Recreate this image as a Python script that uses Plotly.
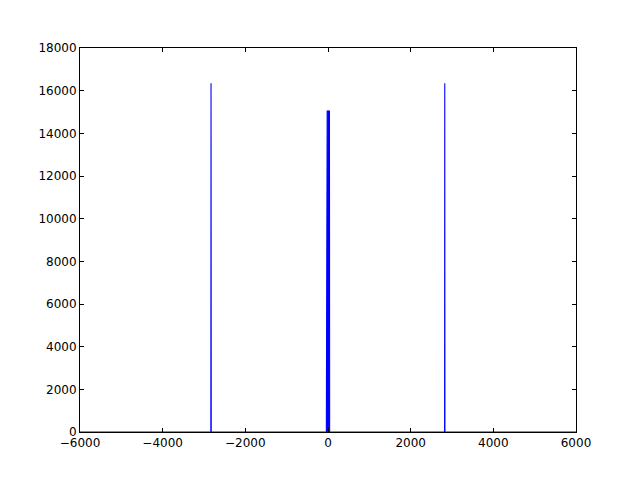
import plotly.graph_objects as go

# Spectrum data (frequency vs magnitude)
freq = [-6000, -2834, -2830, -2826, -40, -35, -30, -20, -10, 0, 10, 20, 30, 35, 40, 2821, 2825, 2829, 6000]
mag = [0, 0, 16350, 0, 0, 15050, 15050, 15050, 15050, 15050, 15050, 15050, 15050, 15050, 0, 0, 16350, 0, 0]

x_ticks = [-6000, -4000, -2000, 0, 2000, 4000, 6000]
x_labels = ["\u22126000", "\u22124000", "\u22122000", "0", "2000", "4000", "6000"]
y_ticks = [0, 2000, 4000, 6000, 8000, 10000, 12000, 14000, 16000, 18000]

fig = go.Figure()
fig.add_trace(go.Scatter(x=freq, y=mag, mode="lines",
                         line=dict(color="#0000ff", width=1.1),
                         fill="tozeroy", fillcolor="#0000ff",
                         showlegend=False, hoverinfo="skip"))

axis_common = dict(showline=True, linecolor="black", linewidth=1, mirror="allticks",
                   ticks="inside", ticklen=4, tickcolor="black", showgrid=False,
                   zeroline=False, tickfont=dict(family="DejaVu Sans", size=12, color="black"))

# page body has an 8px default margin, so the figure is sized to fit the 640x480 window
fig.update_layout(
    width=624, height=464,
    margin=dict(l=72, r=56, t=40, b=40),
    paper_bgcolor="white", plot_bgcolor="white",
    xaxis=dict(range=[-6000, 6000], tickvals=x_ticks, ticktext=x_labels, **axis_common),
    yaxis=dict(range=[0, 18000], tickvals=y_ticks, ticktext=[str(v) for v in y_ticks], **axis_common),
)

fig.write_html("out.html")
